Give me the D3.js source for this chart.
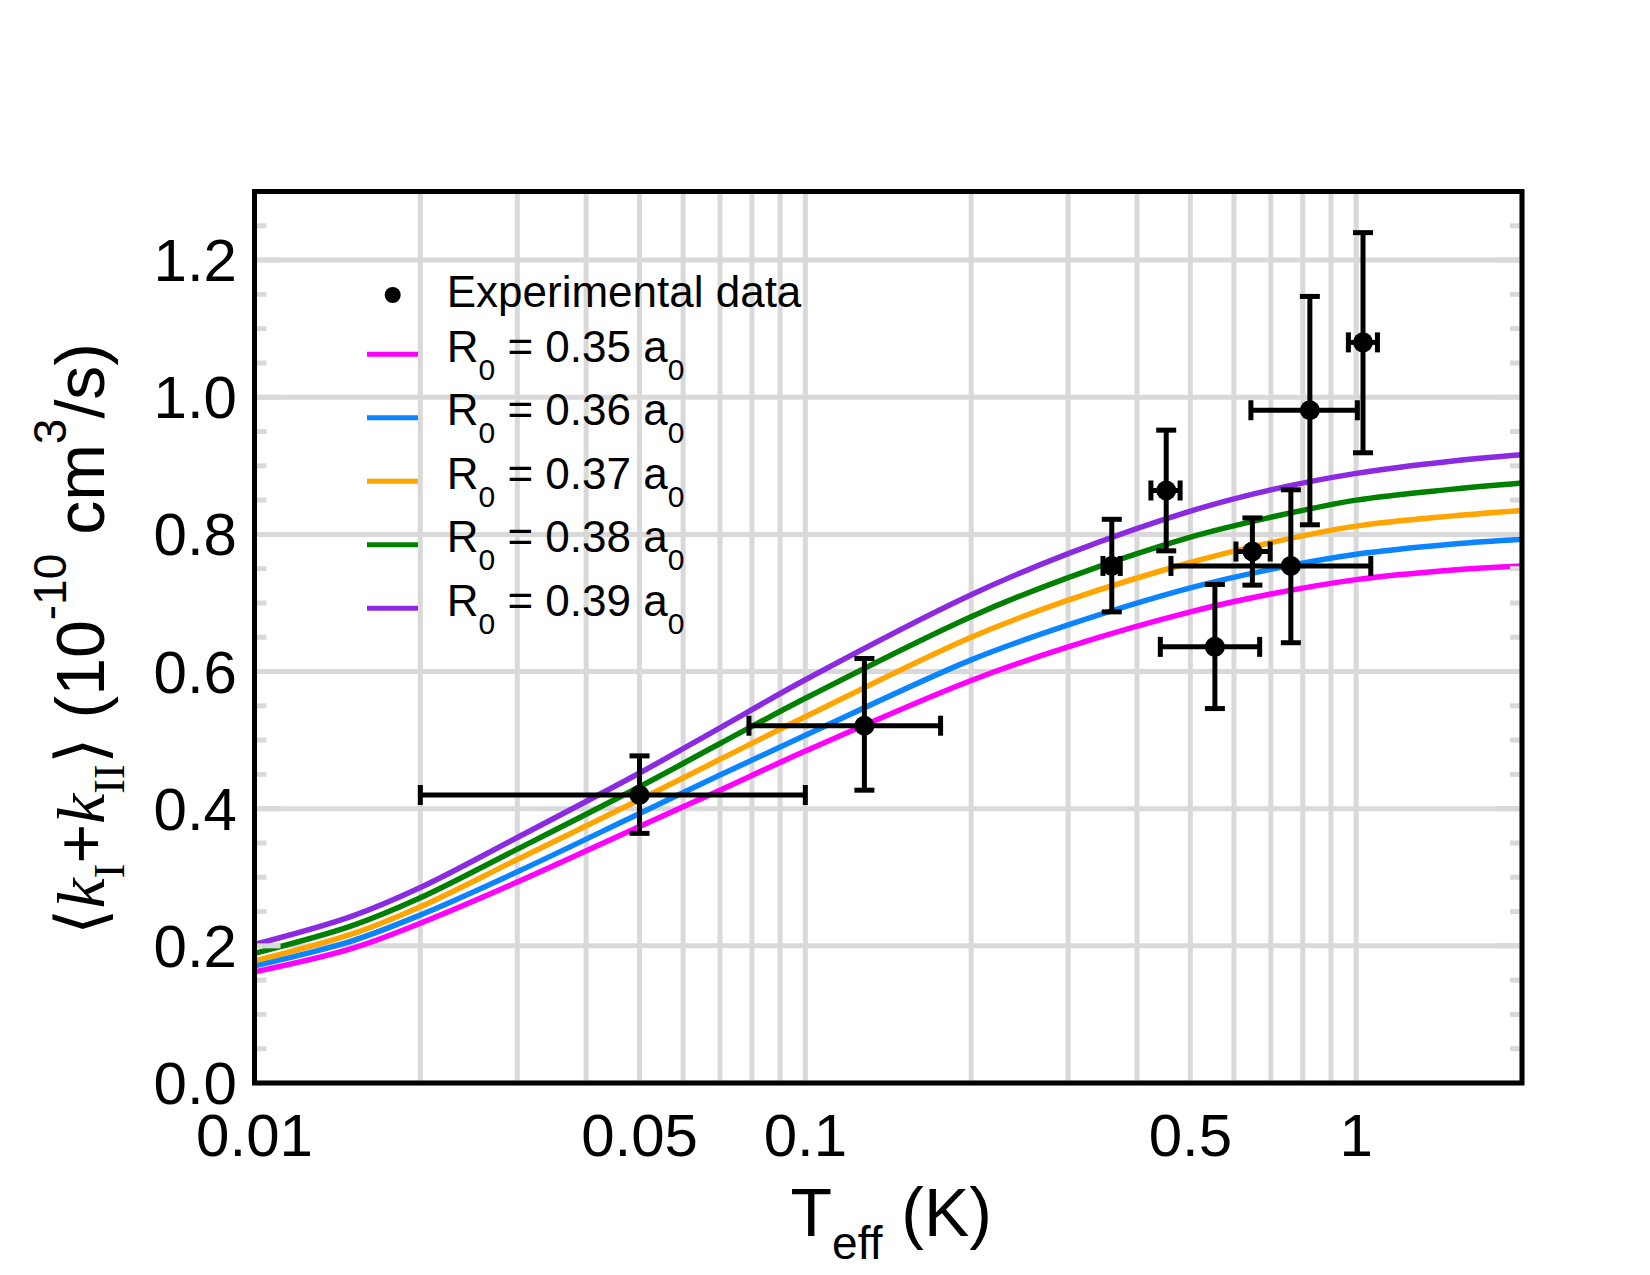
<!DOCTYPE html>
<html>
<head>
<meta charset="utf-8">
<script src="https://d3js.org/d3.v7.min.js"></script>
<style>
  body { margin: 0; background: #fff; }
  text { font-family: "Liberation Sans", Arial, sans-serif; fill: #000; }
</style>
</head>
<body>
<div id="container"></div>
<script>
/* CONSTANTS AND GLOBALS */
const width = 1650,
  height = 1275,
  margin = { top: 191.5, bottom: 192, left: 254.5, right: 128 };

/* DATA */
const tempGrid = [0.01, 0.015, 0.02, 0.03, 0.05, 0.07, 0.1, 0.2, 0.3, 0.5, 0.7, 1.0, 1.5, 2.0];

const rateR035 = [0.162, 0.196, 0.233, 0.293, 0.374, 0.427, 0.484, 0.587, 0.636, 0.687, 0.713, 0.734, 0.748, 0.754];
const rateR036 = [0.171, 0.207, 0.245, 0.308, 0.393, 0.449, 0.507, 0.617, 0.668, 0.722, 0.749, 0.771, 0.786, 0.793];
const rateR037 = [0.178, 0.217, 0.257, 0.326, 0.413, 0.472, 0.534, 0.650, 0.704, 0.759, 0.788, 0.812, 0.827, 0.835];
const rateR038 = [0.189, 0.229, 0.270, 0.341, 0.432, 0.495, 0.561, 0.680, 0.737, 0.796, 0.825, 0.850, 0.866, 0.875];
const rateR039 = [0.202, 0.243, 0.285, 0.358, 0.452, 0.518, 0.588, 0.712, 0.772, 0.834, 0.865, 0.889, 0.907, 0.916];

const seriesLabels = ["0.35", "0.36", "0.37", "0.38", "0.39"];
const seriesColors = ["#ff00ff", "#0a84ff", "#ffa500", "#008000", "#8a2be2"];

const expT      = [0.05, 0.128, 0.360, 0.452, 0.554, 0.648, 0.761, 0.824, 1.029];
const expRate   = [0.420, 0.521, 0.754, 0.864, 0.636, 0.775, 0.754, 0.981, 1.080];
const expTLow   = [0.02, 0.079, 0.347, 0.424, 0.441, 0.605, 0.461, 0.644, 0.968];
const expTHigh  = [0.10, 0.176, 0.373, 0.479, 0.668, 0.698, 1.063, 1.005, 1.093];
const expRateLow  = [0.364, 0.427, 0.687, 0.776, 0.546, 0.726, 0.642, 0.814, 0.919];
const expRateHigh = [0.477, 0.619, 0.822, 0.952, 0.727, 0.824, 0.865, 1.147, 1.240];

const xTickValues = [0.01, 0.05, 0.1, 0.5, 1];
const xTickLabels = ["0.01", "0.05", "0.1", "0.5", "1"];
const yTickValues = [0, 0.2, 0.4, 0.6, 0.8, 1.0, 1.2];

const curves = [rateR035, rateR036, rateR037, rateR038, rateR039];

// SCALES
const xScale = d3.scaleLog()
  .domain([0.01, 2])
  .range([margin.left, width - margin.right]);

const yScale = d3.scaleLinear()
  .domain([0, 1.3])
  .range([height - margin.bottom, margin.top]);

// CREATE SVG ELEMENT
const svg = d3.select("#container")
  .append("svg")
  .attr("width", width)
  .attr("height", height)
  .style("background-color", "white");

const gridColor = "#d9d9d9";
const plotTop = margin.top, plotBottom = height - margin.bottom;
const plotLeft = margin.left, plotRight = width - margin.right;

// GRID
svg.append("g")
  .selectAll("line")
  .data(xScale.ticks())
  .join("line")
  .attr("x1", d => xScale(d))
  .attr("x2", d => xScale(d))
  .attr("y1", plotTop)
  .attr("y2", plotBottom)
  .attr("stroke", gridColor)
  .attr("stroke-width", 5);

svg.append("g")
  .selectAll("line")
  .data(yTickValues)
  .join("line")
  .attr("x1", plotLeft)
  .attr("x2", plotRight)
  .attr("y1", d => yScale(d))
  .attr("y2", d => yScale(d))
  .attr("stroke", gridColor)
  .attr("stroke-width", 5);

// CURVES
const lineGen = d3.line()
  .x((d, i) => xScale(tempGrid[i]))
  .y(d => yScale(d))
  .curve(d3.curveCatmullRom.alpha(0.5));

curves.forEach((c, i) => {
  svg.append("path")
    .datum(c)
    .attr("d", lineGen)
    .attr("fill", "none")
    .attr("stroke", seriesColors[i])
    .attr("stroke-width", 5.5);
});

// ERROR BARS
const errG = svg.append("g")
  .attr("stroke", "black")
  .attr("stroke-width", 5);
const cap = 10;

expT.forEach((t, i) => {
  const cx = xScale(t), cy = yScale(expRate[i]);
  const xl = xScale(expTLow[i]), xh = xScale(expTHigh[i]);
  const yl = yScale(expRateLow[i]), yh = yScale(expRateHigh[i]);
  errG.append("line").attr("x1", xl).attr("x2", xh).attr("y1", cy).attr("y2", cy);
  errG.append("line").attr("x1", xl).attr("x2", xl).attr("y1", cy - cap).attr("y2", cy + cap);
  errG.append("line").attr("x1", xh).attr("x2", xh).attr("y1", cy - cap).attr("y2", cy + cap);
  errG.append("line").attr("x1", cx).attr("x2", cx).attr("y1", yl).attr("y2", yh);
  errG.append("line").attr("x1", cx - cap).attr("x2", cx + cap).attr("y1", yl).attr("y2", yl);
  errG.append("line").attr("x1", cx - cap).attr("x2", cx + cap).attr("y1", yh).attr("y2", yh);
});

svg.append("g")
  .selectAll("circle")
  .data(expT)
  .join("circle")
  .attr("cx", d => xScale(d))
  .attr("cy", (d, i) => yScale(expRate[i]))
  .attr("r", 10)
  .attr("fill", "black");

// INNER Y TICKS (left and right)
const yTicksAll = d3.range(0, 27).map(k => k * 0.05);
const tickG = svg.append("g")
  .attr("stroke", gridColor)
  .attr("stroke-width", 5);
yTicksAll.forEach(v => {
  const isMajor = Math.abs(v / 0.2 - Math.round(v / 0.2)) < 1e-6;
  const len = isMajor ? 26 : 12;
  const y = yScale(v);
  if (y < plotTop + 2 || y > plotBottom - 2) return;
  tickG.append("line").attr("x1", plotLeft).attr("x2", plotLeft + len).attr("y1", y).attr("y2", y);
  tickG.append("line").attr("x1", plotRight - len).attr("x2", plotRight).attr("y1", y).attr("y2", y);
});

// FRAME
svg.append("rect")
  .attr("x", plotLeft)
  .attr("y", plotTop)
  .attr("width", plotRight - plotLeft)
  .attr("height", plotBottom - plotTop)
  .attr("fill", "none")
  .attr("stroke", "black")
  .attr("stroke-width", 5);

// TICK LABELS
svg.append("g")
  .selectAll("text")
  .data(xTickValues)
  .join("text")
  .attr("x", d => xScale(d))
  .attr("y", 1156)
  .attr("font-size", 60)
  .attr("text-anchor", "middle")
  .text((d, i) => xTickLabels[i]);

svg.append("g")
  .selectAll("text")
  .data(yTickValues)
  .join("text")
  .attr("x", 237)
  .attr("y", d => yScale(d) + 21)
  .attr("font-size", 60)
  .attr("text-anchor", "end")
  .text(d => d3.format(".1f")(d));

// AXIS TITLES
const xTitle = svg.append("text")
  .attr("x", (plotLeft + plotRight) / 2 + 3)
  .attr("y", 1236)
  .attr("font-size", 68)
  .attr("text-anchor", "middle");
xTitle.append("tspan").text("T");
xTitle.append("tspan").attr("font-size", 46).attr("dy", 23).text("eff");
xTitle.append("tspan").attr("dy", -23).text(" (K)");

const yTitle = svg.append("text")
  .attr("transform", `translate(104, ${(plotTop + plotBottom) / 2 + 2}) rotate(-90)`)
  .attr("font-size", 68)
  .attr("text-anchor", "middle");
const serif = "'Liberation Serif', 'Times New Roman', serif";
yTitle.append("tspan").style("font-family", "'DejaVu Sans', sans-serif").style("font-weight", 200).text("\u27E8");
yTitle.append("tspan").style("font-family", serif).style("font-style", "italic").text("k");
yTitle.append("tspan").style("font-family", serif).attr("font-size", 44).attr("dy", 20).text("I");
yTitle.append("tspan").attr("dy", -20).text("+");
yTitle.append("tspan").style("font-family", serif).style("font-style", "italic").text("k");
yTitle.append("tspan").style("font-family", serif).attr("font-size", 44).attr("dy", 20).text("II");
yTitle.append("tspan").attr("dy", -20).style("font-family", "'DejaVu Sans', sans-serif").style("font-weight", 200).text("\u27E9");
yTitle.append("tspan").text(" (10");
yTitle.append("tspan").attr("font-size", 46).attr("dy", -38).text("-10");
yTitle.append("tspan").attr("dy", 38).text(" cm");
yTitle.append("tspan").attr("font-size", 46).attr("dy", -38).text("3");
yTitle.append("tspan").attr("dy", 38).text("/s)");

// LEGEND
const legendX = 367, legendLineLen = 51, legendTextX = 446.7;
svg.append("circle")
  .attr("cx", 392.7)
  .attr("cy", 295)
  .attr("r", 8)
  .attr("fill", "black");
svg.append("text")
  .attr("x", legendTextX)
  .attr("y", 306.7)
  .attr("font-size", 44)
  .text("Experimental data");

seriesLabels.forEach((lab, i) => {
  const ly = 354.3 + i * 63.5;
  svg.append("line")
    .attr("x1", legendX)
    .attr("x2", legendX + legendLineLen)
    .attr("y1", ly)
    .attr("y2", ly)
    .attr("stroke", seriesColors[i])
    .attr("stroke-width", 5);
  const t = svg.append("text")
    .attr("x", legendTextX)
    .attr("y", ly + 7.5)
    .attr("font-size", 44);
  t.append("tspan").text("R");
  t.append("tspan").attr("font-size", 30).attr("dy", 18).text("0");
  t.append("tspan").attr("dy", -18).text(` = ${lab} a`);
  t.append("tspan").attr("font-size", 30).attr("dy", 18).text("0");
});
</script>
</body>
</html>
